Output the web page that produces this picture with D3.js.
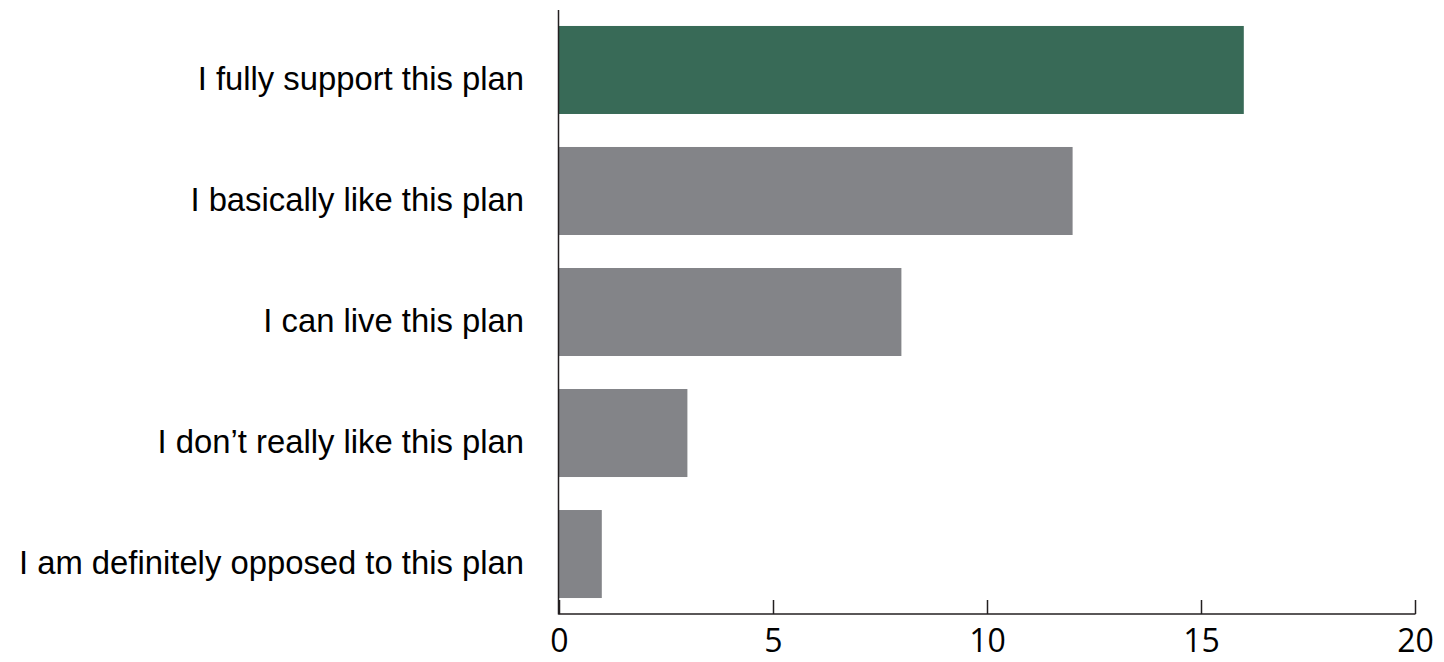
<!DOCTYPE html>
<html><head><meta charset="utf-8">
<script src="https://cdn.jsdelivr.net/npm/d3@7"></script>
<style>body{margin:0;background:#fff}svg{display:block}</style>
</head><body>
<svg id="chart" width="1444" height="662"></svg>
<script>
const categories = [
  "I fully support this plan",
  "I basically like this plan",
  "I can live this plan",
  "I don\u2019t really like this plan",
  "I am definitely opposed to this plan"
];
const values = [16, 12, 8, 3, 1];
const tickValues = [0, 5, 10, 15, 20];
const colors = ["#386A57", "#838488", "#838488", "#838488", "#838488"];

const svg = d3.select("#chart");
const x = d3.scaleLinear().domain([0, 20]).range([559, 1415]);
const y = d3.scaleBand().domain(categories).range([10, 614]).paddingInner(0.2727).paddingOuter(0.132);

svg.selectAll("rect.bar").data(categories).enter().append("rect")
  .attr("class", "bar")
  .attr("x", x(0))
  .attr("y", d => y(d))
  .attr("width", (d, i) => x(values[i]) - x(0))
  .attr("height", y.bandwidth())
  .attr("fill", (d, i) => colors[i]);

// vertical axis line
svg.append("line").attr("x1", 558.5).attr("x2", 558.5).attr("y1", 10).attr("y2", 614.5)
  .attr("stroke", "#231f20").attr("stroke-width", 1.5);

// category labels
svg.selectAll("text.cat").data(categories).enter().append("text")
  .attr("class", "cat")
  .attr("x", 524)
  .attr("y", d => y(d) + y.bandwidth() / 2 + 20)
  .attr("text-anchor", "end")
  .style("font-family", "'Liberation Sans', Arial, sans-serif")
  .style("font-size", "32.8px")
  .attr("fill", "#000")
  .text(d => d);

// x axis
const xAxis = d3.axisBottom(x).tickValues(tickValues).tickSize(0).tickFormat(d3.format("d"));
const gx = svg.append("g").attr("transform", "translate(0,614)").call(xAxis);
gx.select(".domain").attr("stroke", "#231f20").attr("stroke-width", 1.5).attr("d", `M${x(0)-0.5},0H${x(20)+0.5}`);
gx.selectAll(".tick line").attr("y1", -14).attr("y2", 0).attr("stroke", "#231f20").attr("stroke-width", 1.5);
gx.selectAll(".tick text").attr("y", 0).attr("dy", 38)
  .style("font-family", "'Open Sans', sans-serif").style("font-size", "32px").attr("fill", "#000");
</script>
</body></html>
